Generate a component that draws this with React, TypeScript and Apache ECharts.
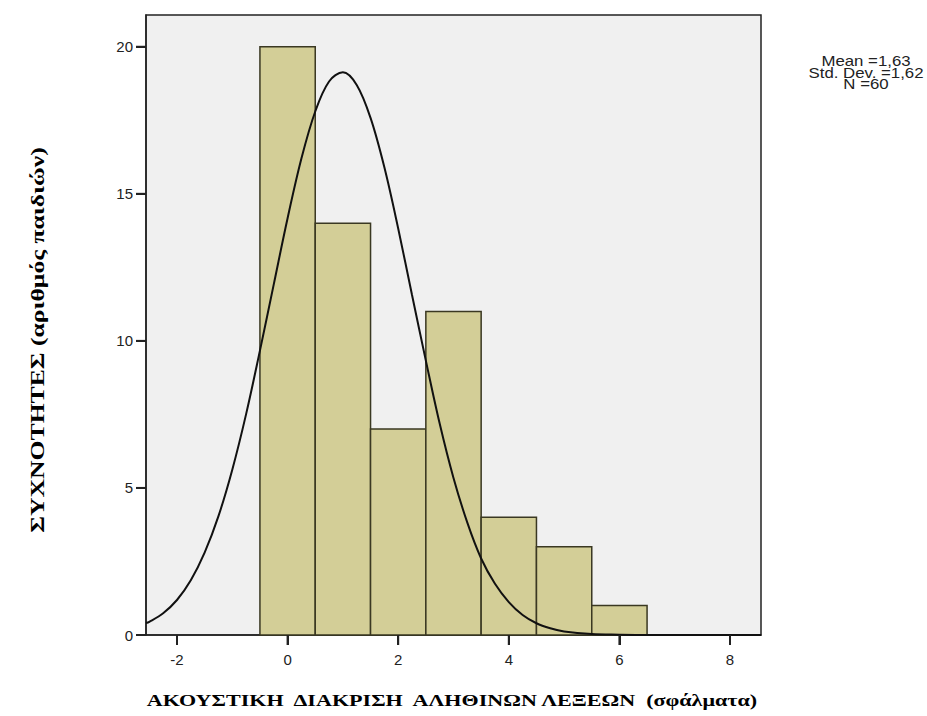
import React, { useEffect, useRef } from "react";
import * as echarts from "echarts";

const binCenters = [0, 1, 2, 3, 4, 5, 6];
const binCounts = [20, 14, 7, 11, 4, 3, 1];
const curveX = [-2.56, -2.5, -2.25, -2, -1.75, -1.5, -1.25, -1, -0.75, -0.5, -0.25, 0, 0.25, 0.5, 0.75, 1, 1.25, 1.5, 1.75, 2, 2.25, 2.5, 2.75, 3, 3.25, 3.5, 3.75, 4, 4.25, 4.5, 4.75, 5, 5.5, 6, 6.5, 7, 7.5, 8, 8.56];
const curveY = [0.41, 0.45, 0.74, 1.19, 1.86, 2.8, 4.04, 5.62, 7.51, 9.67, 11.92, 14.17, 16.2, 17.8, 18.82, 19.13, 18.7, 17.58, 15.9, 13.82, 11.56, 9.33, 7.19, 5.34, 3.82, 2.6, 1.74, 1.12, 0.68, 0.4, 0.23, 0.12, 0.03, 0.01, 0, 0, 0, 0, 0];
const xTicks = [-2, 0, 2, 4, 6, 8];
const yTicks = [0, 5, 10, 15, 20];
const statText = ["Mean =1,63", "Std. Dev. =1,62", "N =60"];
const xTitle = "ΑΚΟΥΣΤΙΚΗ  ΔΙΑΚΡΙΣΗ  ΑΛΗΘΙΝΩΝ ΛΕΞΕΩΝ  (σφάλματα)";
const yTitle = "ΣΥΧΝΟΤΗΤΕΣ (αριθμός παιδιών)";

const X_MIN = -2.56;
const X_MAX = 8.56;
const Y_MAX = 21.08;

export default function App() {
  const ref = useRef<HTMLDivElement>(null);
  useEffect(() => {
    document.body.style.margin = "0";
    const chart = echarts.init(ref.current!, null, { renderer: "svg" });
    const axisColor = "#222222";
    const labelStyle = {
      fontFamily: "Liberation Sans",
      fontSize: 15,
      color: "#222",
    };
    chart.setOption({
      animation: false,
      backgroundColor: "#ffffff",
      grid: {
        left: 146,
        top: 15,
        right: 166,
        bottom: 81,
        show: true,
        backgroundColor: "#f0f0f0",
        borderColor: axisColor,
        borderWidth: 1.5,
      },
      xAxis: {
        type: "value",
        min: X_MIN,
        max: X_MAX,
        splitLine: { show: false },
        axisLine: { show: true, onZero: false, lineStyle: { color: axisColor, width: 1.5 } },
        axisTick: { show: true, length: 10, customValues: xTicks, lineStyle: { color: axisColor, width: 2 } },
        axisLabel: { customValues: xTicks, margin: 17, ...labelStyle },
      },
      yAxis: {
        type: "value",
        min: 0,
        max: Y_MAX,
        splitLine: { show: false },
        axisLine: { show: true, onZero: false, lineStyle: { color: axisColor, width: 1.5 } },
        axisTick: { show: true, length: 10, customValues: yTicks, lineStyle: { color: axisColor, width: 2 } },
        axisLabel: { customValues: yTicks, margin: 13, ...labelStyle },
      },
      series: [
        {
          type: "custom",
          z: 2,
          data: binCenters.map((c, i) => [c, binCounts[i]]),
          renderItem: (params: any, api: any) => {
            const c = api.value(0);
            const v = api.value(1);
            const p0 = api.coord([c - 0.5, 0]);
            const p1 = api.coord([c + 0.5, v]);
            return {
              type: "rect",
              shape: { x: p0[0], y: p1[1], width: p1[0] - p0[0], height: p0[1] - p1[1] },
              style: { fill: "#d3ce97", stroke: "#3a3822", lineWidth: 1.5 },
            };
          },
        },
        {
          type: "line",
          z: 3,
          smooth: 0.35,
          symbol: "none",
          data: curveX.map((x, i) => [x, curveY[i]]),
          lineStyle: { color: "#111", width: 2 },
        },
      ],
    });

    // tick marks placed through the chart's own scales
    const tickGraphics: any[] = [];
    xTicks.forEach((v) => {
      const p = chart.convertToPixel({ gridIndex: 0 }, [v, 0]) as number[];
      if (p && isFinite(p[0]) && isFinite(p[1])) {
        tickGraphics.push({
          type: "rect",
          z: 10,
          shape: { x: p[0] - 1, y: p[1], width: 2, height: 10 },
          style: { fill: axisColor },
        });
      }
    });
    yTicks.forEach((v) => {
      const p = chart.convertToPixel({ gridIndex: 0 }, [X_MIN, v]) as number[];
      if (p && isFinite(p[0]) && isFinite(p[1])) {
        tickGraphics.push({
          type: "rect",
          z: 10,
          shape: { x: p[0] - 10, y: p[1] - 1, width: 10, height: 2 },
          style: { fill: axisColor },
        });
      }
    });

    chart.setOption({
      graphic: [
        ...tickGraphics,
        {
          type: "text",
          x: 38,
          y: 340,
          rotation: Math.PI / 2,
          scaleX: 1.35,
          style: {
            text: yTitle,
            fontFamily: "Liberation Serif",
            fontWeight: "bold",
            fontSize: 19,
            fill: "#000",
            textAlign: "center",
            textVerticalAlign: "middle",
          },
        },
        {
          type: "text",
          x: 452,
          y: 700,
          scaleX: 1.3,
          style: {
            text: xTitle,
            fontFamily: "Liberation Serif",
            fontWeight: "bold",
            fontSize: 17,
            fill: "#000",
            textAlign: "center",
            textVerticalAlign: "middle",
          },
        },
        {
          type: "text",
          x: 866,
          y: 73,
          scaleX: 1.2,
          style: {
            text: statText.join("\n"),
            fontFamily: "Liberation Sans",
            fontSize: 14,
            lineHeight: 11.5,
            fill: "#222",
            textAlign: "center",
            textVerticalAlign: "middle",
          },
        },
      ],
    });
    return () => chart.dispose();
  }, []);
  return <div ref={ref} style={{ position: "fixed", left: 0, top: 0, width: 927, height: 716 }} />;
}
